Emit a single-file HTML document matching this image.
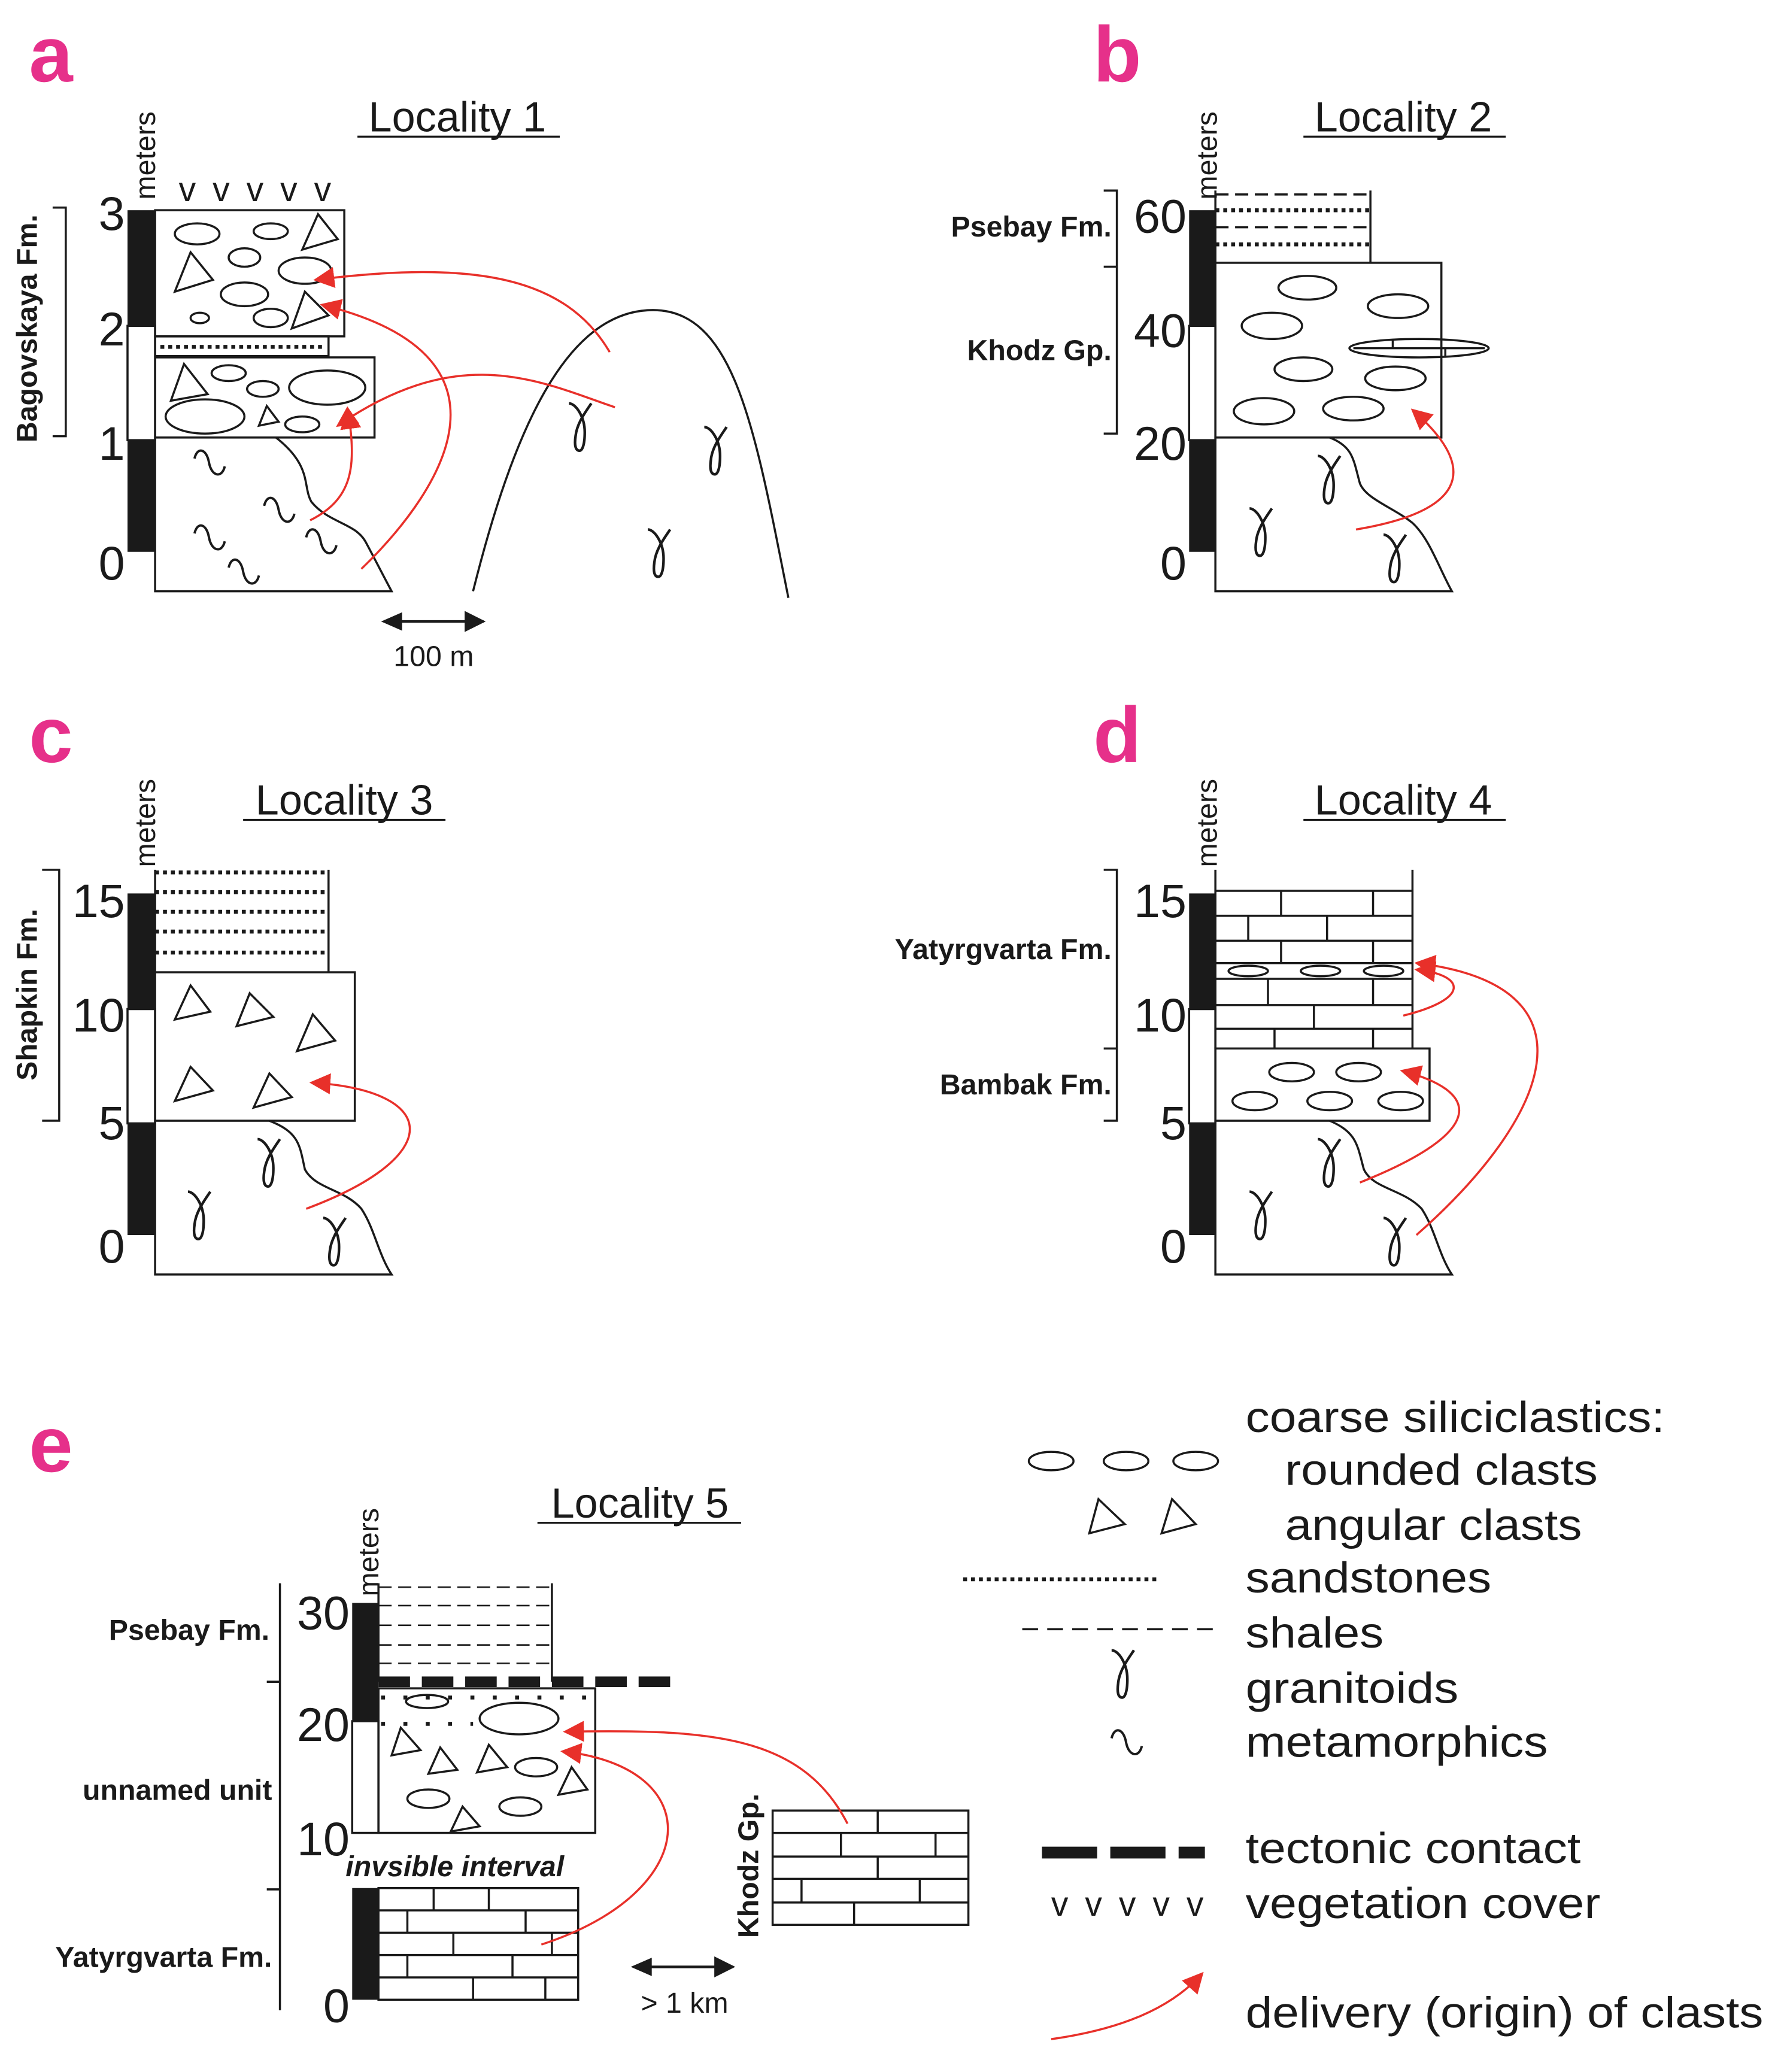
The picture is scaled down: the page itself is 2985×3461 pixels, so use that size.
<!DOCTYPE html>
<html><head><meta charset="utf-8"><style>
html,body{margin:0;padding:0;background:#fff;}
svg{display:block;}
text{font-family:"Liberation Sans",Arial,sans-serif;fill:#1a1a1a;}
</style></head><body>
<svg width="2985" height="3461" viewBox="0 0 1360 1577" xmlns="http://www.w3.org/2000/svg">
<defs>
<marker id="arL" viewBox="0 0 10 10" refX="9" refY="5" markerWidth="16" markerHeight="16" orient="auto" markerUnits="userSpaceOnUse">
<path d="M0,0 L10,5 L0,10 z" fill="#e8302a"/></marker>
<path id="gam" d="M-9,-20 C-4,-20 3,-10 3,2 C3,12 1,16 -1,16 C-4,16 -5,12 -4,5 C-3,-5 4,-14 8,-20" fill="none" stroke="#1a1a1a" stroke-width="2"/>
<path id="sq" d="M-12,-3 C-10,-12 -3,-11 -1,0 C1,11 9,12 11,3" fill="none" stroke="#1a1a1a" stroke-width="1.8"/>
<marker id="bk" viewBox="0 0 10 10" refX="9" refY="5" markerWidth="16" markerHeight="16" orient="auto" markerUnits="userSpaceOnUse">
<path d="M0,0 L10,5 L0,10 z" fill="#1a1a1a"/></marker>
</defs>
<g fill="none" stroke="#1a1a1a" stroke-width="1.6">

<!-- ===== PANEL A ===== -->
<text x="22" y="62" font-size="60" font-weight="bold" stroke="none" style="fill:#e6308a">a</text>
<text x="348" y="100" font-size="32" text-anchor="middle" stroke="none">Locality 1</text>
<line x1="272" y1="104" x2="426" y2="104" stroke-width="1.5"/>
<text transform="translate(118,152) rotate(-90)" font-size="22" stroke="none">meters</text>
<text x="136" y="153" font-size="26" stroke="none" textLength="116" lengthAdjust="spacing">v v v v v</text>
<rect x="97" y="160" width="21" height="88" fill="#1a1a1a" stroke="none"/>
<rect x="97" y="248" width="21" height="87" fill="#fff"/>
<rect x="97" y="335" width="21" height="85" fill="#1a1a1a" stroke="none"/>
<g font-size="36" stroke="none" text-anchor="end">
<text x="95" y="175">3</text><text x="95" y="263">2</text><text x="95" y="350">1</text><text x="95" y="441">0</text></g>
<path d="M40,158 H50 V332 H40"/>
<text transform="translate(28,250) rotate(-90)" font-size="22" font-weight="bold" text-anchor="middle" stroke="none">Bagovskaya Fm.</text>
<rect x="118" y="160" width="144" height="96"/>
<ellipse cx="150" cy="178" rx="17" ry="8"/><ellipse cx="206" cy="176" rx="13" ry="6"/>
<path d="M242,163 L257,182 L230,190 Z"/>
<ellipse cx="186" cy="196" rx="12" ry="7"/><ellipse cx="232" cy="206" rx="20" ry="10"/>
<path d="M145,192 L162,213 L133,222 Z"/>
<ellipse cx="186" cy="224" rx="18" ry="9"/><ellipse cx="152" cy="242" rx="7" ry="4"/><ellipse cx="206" cy="242" rx="13" ry="7"/>
<path d="M232,222 L250,240 L222,250 Z"/>
<rect x="118" y="256" width="132" height="15"/>
<line x1="122" y1="264" x2="248" y2="264" stroke-width="3" stroke-dasharray="3,3"/>
<rect x="118" y="272" width="167" height="61"/>
<path d="M140,277 L158,300 L130,305 Z"/>
<ellipse cx="174" cy="284" rx="13" ry="6"/><ellipse cx="200" cy="296" rx="12" ry="6"/>
<ellipse cx="249" cy="295" rx="29" ry="13"/><ellipse cx="156" cy="317" rx="30" ry="13"/>
<path d="M203,309 L212,321 L197,324 Z"/><ellipse cx="230" cy="323" rx="13" ry="6"/>
<path d="M118,333 V450 H298 C290,435 285,425 278,412 C270,398 250,398 237,382 C230,370 238,355 210,333"/>
<use href="#sq" x="160" y="352"/><use href="#sq" x="213" y="388"/><use href="#sq" x="160" y="409"/><use href="#sq" x="245" y="412"/><use href="#sq" x="186" y="435"/>
<path d="M360,450 C390,330 430,236 497,236 C560,236 575,330 600,455"/>
<use href="#gam" x="442" y="327"/><use href="#gam" x="545" y="345"/><use href="#gam" x="502" y="423"/>
<g stroke="#e8302a" stroke-width="1.6">
<path d="M464,268 C430,210 360,198 240,213" marker-end="url(#arL)"/>
<path d="M468,310 C410,290 350,260 257,324" marker-end="url(#arL)"/>
<path d="M236,396 C272,378 270,350 265,312" marker-end="url(#arL)"/>
<path d="M275,433 C340,370 400,270 245,232" marker-end="url(#arL)"/>
</g>
<line x1="300" y1="473" x2="368" y2="473" stroke-width="2" marker-end="url(#bk)"/>
<path d="M290,473 L306,466 L306,480 Z" fill="#1a1a1a" stroke="none"/>
<text x="330" y="507" font-size="22" text-anchor="middle" stroke="none">100 m</text>

<!-- ===== PANEL B ===== -->
<text x="832" y="62" font-size="60" font-weight="bold" stroke="none" style="fill:#e6308a">b</text>
<text x="1068" y="100" font-size="32" text-anchor="middle" stroke="none">Locality 2</text>
<line x1="992" y1="104" x2="1146" y2="104" stroke-width="1.5"/>
<text transform="translate(926,152) rotate(-90)" font-size="22" stroke="none">meters</text>
<rect x="905" y="160" width="20" height="88" fill="#1a1a1a" stroke="none"/>
<rect x="905" y="248" width="20" height="87" fill="#fff"/>
<rect x="905" y="335" width="20" height="85" fill="#1a1a1a" stroke="none"/>
<g font-size="36" stroke="none" text-anchor="end">
<text x="903" y="177">60</text><text x="903" y="264">40</text><text x="903" y="350">20</text><text x="903" y="441">0</text></g>
<path d="M840,145 H850 V330 H840 M840,203 H850"/>
<g font-size="22" font-weight="bold" stroke="none" text-anchor="end"><text x="846" y="180">Psebay Fm.</text><text x="846" y="274">Khodz Gp.</text></g>
<path d="M925,145 V200 M1043,145 V200"/>
<line x1="925" y1="148" x2="1043" y2="148" stroke-dasharray="10,5"/>
<line x1="925" y1="160" x2="1043" y2="160" stroke-width="3" stroke-dasharray="3,3"/>
<line x1="925" y1="173" x2="1043" y2="173" stroke-dasharray="10,5"/>
<line x1="925" y1="186" x2="1043" y2="186" stroke-width="3" stroke-dasharray="3,3"/>
<rect x="925" y="200" width="172" height="133"/>
<ellipse cx="995" cy="219" rx="22" ry="9"/><ellipse cx="968" cy="248" rx="23" ry="10"/><ellipse cx="1064" cy="233" rx="23" ry="9"/>
<ellipse cx="992" cy="281" rx="22" ry="9"/><ellipse cx="1062" cy="288" rx="23" ry="9"/><ellipse cx="962" cy="313" rx="23" ry="10"/><ellipse cx="1030" cy="311" rx="23" ry="9"/>
<ellipse cx="1080" cy="265" rx="53" ry="7"/><path d="M1030,265 H1130 M1060,259 V265 M1100,265 V271"/>
<path d="M925,333 V450 H1105 C1095,432 1088,410 1075,398 C1060,386 1040,380 1035,368 C1030,350 1030,340 1012,333"/>
<use href="#gam" x="1012" y="367"/><use href="#gam" x="960" y="407"/><use href="#gam" x="1062" y="427"/>
<path d="M1032,403 C1110,390 1130,360 1075,312" stroke="#e8302a" marker-end="url(#arL)"/>

<!-- ===== PANEL C ===== -->
<text x="22" y="580" font-size="60" font-weight="bold" stroke="none" style="fill:#e6308a">c</text>
<text x="262" y="620" font-size="32" text-anchor="middle" stroke="none">Locality 3</text>
<line x1="185" y1="624" x2="339" y2="624" stroke-width="1.5"/>
<text transform="translate(118,660) rotate(-90)" font-size="22" stroke="none">meters</text>
<rect x="97" y="680" width="21" height="88" fill="#1a1a1a" stroke="none"/>
<rect x="97" y="768" width="21" height="87" fill="#fff"/>
<rect x="97" y="855" width="21" height="85" fill="#1a1a1a" stroke="none"/>
<g font-size="36" stroke="none" text-anchor="end">
<text x="95" y="698">15</text><text x="95" y="785">10</text><text x="95" y="867">5</text><text x="95" y="961">0</text></g>
<path d="M32,662 H45 V853 H32"/>
<text transform="translate(28,757) rotate(-90)" font-size="22" font-weight="bold" text-anchor="middle" stroke="none">Shapkin Fm.</text>
<path d="M118,662 V740 M250,662 V740"/>
<g stroke-width="3" stroke-dasharray="3,3"><line x1="118" y1="664" x2="250" y2="664"/><line x1="118" y1="679" x2="250" y2="679"/><line x1="118" y1="694" x2="250" y2="694"/><line x1="118" y1="709" x2="250" y2="709"/><line x1="118" y1="725" x2="250" y2="725"/></g>
<rect x="118" y="740" width="152" height="113"/>
<path d="M145,750 L160,770 L133,776 Z M190,756 L208,774 L180,781 Z M238,772 L255,792 L226,800 Z M145,812 L162,830 L133,838 Z M205,817 L222,835 L193,843 Z"/>
<path d="M118,853 V970 H298 C288,955 285,935 275,920 C262,905 240,905 232,890 C228,872 228,862 205,853"/>
<use href="#gam" x="205" y="887"/><use href="#gam" x="152" y="927"/><use href="#gam" x="255" y="947"/>
<path d="M233,920 C340,880 335,830 237,824" stroke="#e8302a" marker-end="url(#arL)"/>

<!-- ===== PANEL D ===== -->
<text x="832" y="580" font-size="60" font-weight="bold" stroke="none" style="fill:#e6308a">d</text>
<text x="1068" y="620" font-size="32" text-anchor="middle" stroke="none">Locality 4</text>
<line x1="992" y1="624" x2="1146" y2="624" stroke-width="1.5"/>
<text transform="translate(926,660) rotate(-90)" font-size="22" stroke="none">meters</text>
<rect x="905" y="680" width="20" height="88" fill="#1a1a1a" stroke="none"/>
<rect x="905" y="768" width="20" height="87" fill="#fff"/>
<rect x="905" y="855" width="20" height="85" fill="#1a1a1a" stroke="none"/>
<g font-size="36" stroke="none" text-anchor="end">
<text x="903" y="698">15</text><text x="903" y="785">10</text><text x="903" y="867">5</text><text x="903" y="961">0</text></g>
<path d="M840,662 H850 V853 H840 M840,798 H850"/>
<g font-size="22" font-weight="bold" stroke="none" text-anchor="end"><text x="846" y="730">Yatyrgvarta Fm.</text><text x="846" y="833">Bambak Fm.</text></g>
<path d="M925,662 V798 M1075,662 V798"/>
<path d="M925,678 H1075 M925,697 H1075 M925,716 H1075 M925,733 H1075 M925,745 H1075 M925,765 H1075 M925,783 H1075"/>
<path d="M975,678 V697 M1045,678 V697 M950,697 V716 M1010,697 V716 M975,716 V733 M1045,716 V733 M965,745 V765 M1045,745 V765 M1000,765 V783 M970,783 V798 M1045,783 V798"/>
<ellipse cx="950" cy="739" rx="15" ry="4"/><ellipse cx="1005" cy="739" rx="15" ry="4"/><ellipse cx="1053" cy="739" rx="15" ry="4"/>
<rect x="925" y="798" width="163" height="55"/>
<ellipse cx="983" cy="816" rx="17" ry="7"/><ellipse cx="1034" cy="816" rx="17" ry="7"/><ellipse cx="955" cy="838" rx="17" ry="7"/><ellipse cx="1012" cy="838" rx="17" ry="7"/><ellipse cx="1066" cy="838" rx="17" ry="7"/>
<path d="M925,853 V970 H1105 C1095,955 1092,935 1082,920 C1068,905 1045,905 1038,890 C1033,872 1033,862 1012,853"/>
<use href="#gam" x="1012" y="887"/><use href="#gam" x="960" y="927"/><use href="#gam" x="1062" y="947"/>
<g stroke="#e8302a">
<path d="M1068,773 C1120,760 1115,742 1078,738" marker-end="url(#arL)"/>
<path d="M1035,900 C1135,860 1125,830 1067,815" marker-end="url(#arL)"/>
<path d="M1078,940 C1180,850 1220,750 1078,733" marker-end="url(#arL)"/>
</g>

<!-- ===== PANEL E ===== -->
<text x="22" y="1120" font-size="60" font-weight="bold" stroke="none" style="fill:#e6308a">e</text>
<text x="487" y="1155" font-size="32" text-anchor="middle" stroke="none">Locality 5</text>
<line x1="409" y1="1159" x2="564" y2="1159" stroke-width="1.5"/>
<text transform="translate(288,1215) rotate(-90)" font-size="22" stroke="none">meters</text>
<rect x="268" y="1220" width="20" height="90" fill="#1a1a1a" stroke="none"/>
<rect x="268" y="1310" width="20" height="85" fill="#fff"/>
<rect x="268" y="1437" width="20" height="85" fill="#1a1a1a" stroke="none"/>
<g font-size="36" stroke="none" text-anchor="end">
<text x="266" y="1240">30</text><text x="266" y="1325">20</text><text x="266" y="1412">10</text><text x="266" y="1539">0</text></g>
<path d="M213,1205 V1530 M203,1280 H213 M203,1438 H213"/>
<g font-size="22" font-weight="bold" stroke="none" text-anchor="end"><text x="205" y="1248">Psebay Fm.</text><text x="207" y="1370">unnamed unit</text><text x="207" y="1497">Yatyrgvarta Fm.</text></g>
<path d="M288,1205 V1280 M420,1205 V1280"/>
<g stroke-dasharray="10,5" stroke-width="1.2"><line x1="288" y1="1208" x2="420" y2="1208"/><line x1="288" y1="1222" x2="420" y2="1222"/><line x1="288" y1="1237" x2="420" y2="1237"/><line x1="288" y1="1252" x2="420" y2="1252"/><line x1="288" y1="1266" x2="420" y2="1266"/></g>
<rect x="288" y="1285" width="165" height="110"/>
<line x1="290" y1="1292" x2="453" y2="1292" stroke-width="3" stroke-dasharray="3,14"/>
<line x1="290" y1="1312" x2="360" y2="1312" stroke-width="3" stroke-dasharray="3,14"/>
<ellipse cx="325" cy="1295" rx="16" ry="5"/><ellipse cx="395" cy="1308" rx="30" ry="12"/>
<ellipse cx="408" cy="1345" rx="16" ry="7"/><ellipse cx="326" cy="1369" rx="16" ry="7"/><ellipse cx="396" cy="1375" rx="16" ry="7"/>
<path d="M305,1315 L320,1332 L298,1336 Z M335,1330 L348,1347 L326,1350 Z M372,1328 L386,1345 L363,1349 Z M435,1345 L447,1362 L425,1366 Z M352,1375 L365,1390 L343,1394 Z"/>
<line x1="288" y1="1280" x2="517" y2="1280" stroke-width="8" stroke-dasharray="24,9"/>
<text x="263" y="1428" font-size="22" font-weight="bold" font-style="italic" stroke="none">invsible interval</text>
<rect x="288" y="1437" width="152" height="85"/>
<path d="M288,1454 H440 M288,1471 H440 M288,1488 H440 M288,1505 H440"/>
<path d="M330,1437 V1454 M372,1437 V1454 M310,1454 V1471 M400,1454 V1471 M345,1471 V1488 M420,1471 V1488 M310,1488 V1505 M390,1488 V1505 M360,1505 V1522 M415,1505 V1522"/>
<rect x="588" y="1378" width="149" height="87"/>
<path d="M588,1395 H737 M588,1413 H737 M588,1430 H737 M588,1448 H737"/>
<path d="M668,1378 V1395 M640,1395 V1413 M712,1395 V1413 M668,1413 V1430 M610,1430 V1448 M700,1430 V1448 M650,1448 V1465"/>
<text transform="translate(577,1420) rotate(-90)" font-size="22" font-weight="bold" text-anchor="middle" stroke="none">Khodz Gp.</text>
<g stroke="#e8302a">
<path d="M412,1480 C535,1440 540,1345 428,1333" marker-end="url(#arL)"/>
<path d="M645,1388 C610,1320 540,1316 430,1318" marker-end="url(#arL)"/>
</g>
<line x1="490" y1="1497" x2="558" y2="1497" stroke-width="2" marker-end="url(#bk)"/>
<path d="M480,1497 L496,1490 L496,1504 Z" fill="#1a1a1a" stroke="none"/>
<text x="521" y="1532" font-size="22" text-anchor="middle" stroke="none">&gt; 1 km</text>

<!-- ===== LEGEND ===== -->
<g font-size="33" stroke="none">
<text x="948" y="1090" textLength="319" lengthAdjust="spacingAndGlyphs">coarse siliciclastics:</text>
<text x="978" y="1130" textLength="238" lengthAdjust="spacingAndGlyphs">rounded clasts</text>
<text x="978" y="1172" textLength="226" lengthAdjust="spacingAndGlyphs">angular clasts</text>
<text x="948" y="1212" textLength="187" lengthAdjust="spacingAndGlyphs">sandstones</text>
<text x="948" y="1254" textLength="105" lengthAdjust="spacingAndGlyphs">shales</text>
<text x="948" y="1296" textLength="162" lengthAdjust="spacingAndGlyphs">granitoids</text>
<text x="948" y="1337" textLength="230" lengthAdjust="spacingAndGlyphs">metamorphics</text>
<text x="948" y="1418" textLength="255" lengthAdjust="spacingAndGlyphs">tectonic contact</text>
<text x="948" y="1460" textLength="270" lengthAdjust="spacingAndGlyphs">vegetation cover</text>
<text x="948" y="1543" textLength="394" lengthAdjust="spacingAndGlyphs">delivery (origin) of clasts</text>
</g>
<ellipse cx="800" cy="1112" rx="17" ry="7"/><ellipse cx="857" cy="1112" rx="17" ry="7"/><ellipse cx="910" cy="1112" rx="17" ry="7"/>
<path d="M836,1141 L856,1160 L829,1167 Z M892,1141 L910,1160 L884,1167 Z"/>
<line x1="733" y1="1202" x2="882" y2="1202" stroke-width="3" stroke-dasharray="3,3"/>
<line x1="778" y1="1240" x2="928" y2="1240" stroke-dasharray="12,7"/>
<use href="#gam" x="855" y="1276"/>
<use href="#sq" x="858" y="1326"/>
<line x1="793" y1="1410" x2="917" y2="1410" stroke-width="9" stroke-dasharray="42,10"/>
<text x="800" y="1458" font-size="26" stroke="none" textLength="116" lengthAdjust="spacing">v v v v v</text>
<path d="M800,1552 C850,1545 890,1530 915,1502" stroke="#e8302a" marker-end="url(#arL)"/>
</g>
</svg>
</body></html>
